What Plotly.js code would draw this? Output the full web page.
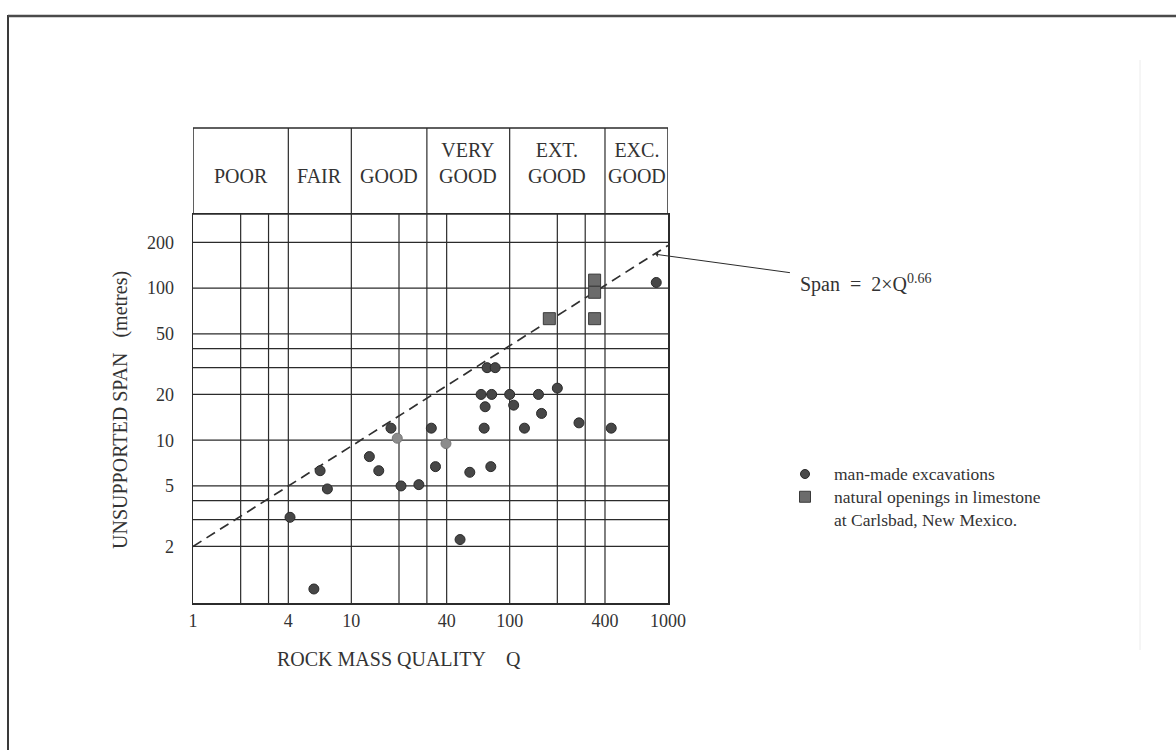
<!DOCTYPE html>
<html>
<head>
<meta charset="utf-8">
<script src="https://cdn.plot.ly/plotly-3.0.1.min.js"></script>
<style>
html,body{margin:0;padding:0;background:#ffffff;}
#chart{width:1176px;height:750px;}
</style>
</head>
<body>
<div id="chart"></div>
<script>
// ---------------- data ----------------
const qualityClasses = ['POOR', 'FAIR', 'GOOD', 'VERY<br>GOOD', 'EXT.<br>GOOD', 'EXC.<br>GOOD'];
const classBounds = [1, 4, 10, 30, 100, 400, 1000];

const xTickVals = [1, 4, 10, 40, 100, 400, 1000];
const xTickText = ['1', '4', '10', '40', '100', '400', '1000'];
const yTickVals = [2, 5, 10, 20, 50, 100, 200];
const yTickText = ['2', '5', '10', '20', '50', '100', '200'];

const gridQ = [2, 3, 4, 10, 20, 30, 40, 100, 200, 300, 400];
const gridSpan = [2, 3, 4, 5, 10, 20, 30, 40, 50, 100, 200];

// man-made excavations (Q, span in metres)
const manmadeQ = [72, 81, 66, 77, 100, 70, 106, 152, 200, 159,
                  32, 69, 124, 274, 438, 17.8, 6.35, 7.06, 4.1, 5.8,
                  13, 14.9, 20.6, 26.7, 34, 56, 76, 48.6, 843];
const manmadeSpan = [30, 30, 20, 20, 20, 16.6, 17, 20, 22, 15,
                     12, 12, 12, 13, 12, 12, 6.3, 4.78, 3.11, 1.05,
                     7.8, 6.3, 5, 5.1, 6.7, 6.15, 6.7, 2.22, 109];
// two faintly printed man-made points
const manmadeFaintQ = [19.5, 39.6];
const manmadeFaintSpan = [10.3, 9.5];

// natural openings in limestone, Carlsbad
const naturalQ = [178, 344, 344, 344];
const naturalSpan = [63, 63, 94, 113];

// Span = 2 x Q^0.66 (end points)
const lineQ = [1, 1000];
const lineSpan = [2, 191];
const spanLabelQ = 820;

const legendLabels = ['man-made excavations', 'natural openings in limestone', 'at Carlsbad, New Mexico.'];

// ---------------- layout helpers ----------------
const W = 1176, H = 750;
const px = v => v / W;
const py = v => 1 - v / H;
const FONT = 'Liberation Serif, Times New Roman, serif';
const INK = '#2b2b2b';
const TXT = '#333333';

const LEG_FONT = 17.5;
const LEG_LINE = LEG_FONT * 1.3;
const LEG_Y0 = 474;

const shapes = [];
gridQ.forEach(q => shapes.push({type: 'line', layer: 'below', xref: 'x', yref: 'y domain',
  x0: q, x1: q, y0: 0, y1: 1, line: {color: INK, width: 1.2}}));
gridSpan.forEach(s => shapes.push({type: 'line', layer: 'below', xref: 'x domain', yref: 'y',
  x0: 0, x1: 1, y0: s, y1: s, line: {color: INK, width: 1.2}}));
// header box
shapes.push({type: 'rect', xref: 'x', yref: 'paper', x0: classBounds[0], x1: classBounds[classBounds.length - 1],
  y0: py(214), y1: py(128), line: {color: INK, width: 1.5}});
classBounds.slice(1, -1).forEach(b => shapes.push({type: 'line', xref: 'x', yref: 'paper',
  x0: b, x1: b, y0: py(214), y1: py(128), line: {color: INK, width: 1.2}}));
// page frame of the scan
shapes.push({type: 'line', xref: 'paper', yref: 'paper', x0: px(8), x1: px(8), y0: py(15), y1: 0,
  line: {color: '#3a3a3a', width: 2}});
shapes.push({type: 'line', xref: 'paper', yref: 'paper', x0: px(8), x1: 1, y0: py(16), y1: py(16),
  line: {color: '#4a4a4a', width: 2.5}});
shapes.push({type: 'line', xref: 'paper', yref: 'paper', x0: px(1140), x1: px(1140), y0: py(60), y1: py(650),
  line: {color: '#ececec', width: 1}});
// legend swatches
const c1 = LEG_Y0, c2 = LEG_Y0 + LEG_LINE;
shapes.push({type: 'circle', xref: 'paper', yref: 'paper', x0: px(800.5), x1: px(809.5), y0: py(c1 + 4.5), y1: py(c1 - 4.5),
  fillcolor: '#4a4a4a', line: {color: '#2a2a2a', width: 1}});
shapes.push({type: 'rect', xref: 'paper', yref: 'paper', x0: px(799.5), x1: px(810.5), y0: py(c2 + 5.5), y1: py(c2 - 5.5),
  fillcolor: '#6b6b6b', line: {color: '#3a3a3a', width: 1}});

const annotations = [];
qualityClasses.forEach((c, i) => {
  const gx = Math.log10(Math.sqrt(classBounds[i] * classBounds[i + 1]));
  annotations.push({text: c, xref: 'x', yref: 'paper', x: gx, y: py(189), xanchor: 'center', yanchor: 'bottom',
    showarrow: false, align: 'center', font: {family: FONT, size: 20, color: TXT}});
});
// axis titles
annotations.push({text: 'ROCK MASS QUALITY\u00a0\u00a0\u00a0\u00a0Q', xref: 'paper', yref: 'paper', x: px(275), y: py(659),
  xanchor: 'left', yanchor: 'middle', showarrow: false, font: {family: FONT, size: 20, color: TXT}});
annotations.push({text: 'UNSUPPORTED SPAN\u00a0\u00a0\u00a0(metres)', xref: 'paper', yref: 'paper', x: px(120), y: py(410),
  xanchor: 'center', yanchor: 'middle', textangle: -90, showarrow: false, font: {family: FONT, size: 20, color: TXT}});
// span formula with arrow pointing at the dashed line
const slope = (Math.log10(lineSpan[1]) - Math.log10(lineSpan[0])) / (Math.log10(lineQ[1]) - Math.log10(lineQ[0]));
const tipLogQ = Math.log10(spanLabelQ);
const tipLogS = Math.log10(lineSpan[0]) + slope * (tipLogQ - Math.log10(lineQ[0]));
annotations.push({text: 'Span\u00a0\u00a0=\u00a0\u00a02×Q<sup>0.66</sup>', xref: 'x', yref: 'y', x: tipLogQ, y: tipLogS,
  ax: 212, ay: 29, axref: 'pixel', ayref: 'pixel', xanchor: 'center', yanchor: 'middle',
  showarrow: true, arrowhead: 1, arrowsize: 0.9, arrowwidth: 1, arrowcolor: INK, standoff: 1, startstandoff: 9,
  font: {family: FONT, size: 20, color: TXT}});
// legend text (one block, three lines)
annotations.push({text: legendLabels.join('<br>'), xref: 'paper', yref: 'paper',
  x: px(832), y: py(LEG_Y0 + LEG_LINE), xanchor: 'left', yanchor: 'middle', align: 'left', showarrow: false,
  font: {family: FONT, size: LEG_FONT, color: TXT}});

const traces = [
  {x: lineQ, y: lineSpan, type: 'scatter', mode: 'lines', hoverinfo: 'skip', name: 'Span = 2×Q^0.66',
   line: {color: '#303030', width: 1.7, dash: '10px,6px'}},
  {x: manmadeQ, y: manmadeSpan, type: 'scatter', mode: 'markers', name: 'man-made excavations',
   marker: {symbol: 'circle', size: 10, color: '#474747', line: {color: '#2a2a2a', width: 1}}},
  {x: manmadeFaintQ, y: manmadeFaintSpan, type: 'scatter', mode: 'markers', name: 'man-made excavations (faint)',
   marker: {symbol: 'circle', size: 10, color: '#8c8c8c', line: {color: '#777777', width: 1}}},
  {x: naturalQ, y: naturalSpan, type: 'scatter', mode: 'markers', name: 'natural openings in limestone',
   marker: {symbol: 'square', size: 12, color: '#6b6b6b', line: {color: '#3a3a3a', width: 1}}}
];

const axisCommon = {type: 'log', showgrid: false, zeroline: false, showline: true, mirror: true,
  linecolor: INK, linewidth: 1.5, tickmode: 'array', ticks: 'outside', tickcolor: 'rgba(0,0,0,0)',
  tickfont: {family: FONT, size: 18, color: TXT}, fixedrange: true};

const layout = {
  width: W, height: H, autosize: false,
  margin: {l: 0, r: 0, t: 0, b: 0, pad: 0},
  paper_bgcolor: '#ffffff', plot_bgcolor: '#ffffff',
  showlegend: false,
  xaxis: Object.assign({}, axisCommon, {range: [0, 3], domain: [px(193), px(668)],
    tickvals: xTickVals, ticktext: xTickText, ticklen: 1}),
  yaxis: Object.assign({}, axisCommon, {range: [-0.071, 2.488], domain: [py(603), py(214)],
    tickvals: yTickVals, ticktext: yTickText, ticklen: 14}),
  shapes: shapes,
  annotations: annotations
};

Plotly.newPlot('chart', traces, layout, {staticPlot: true, displayModeBar: false});
</script>
</body>
</html>
